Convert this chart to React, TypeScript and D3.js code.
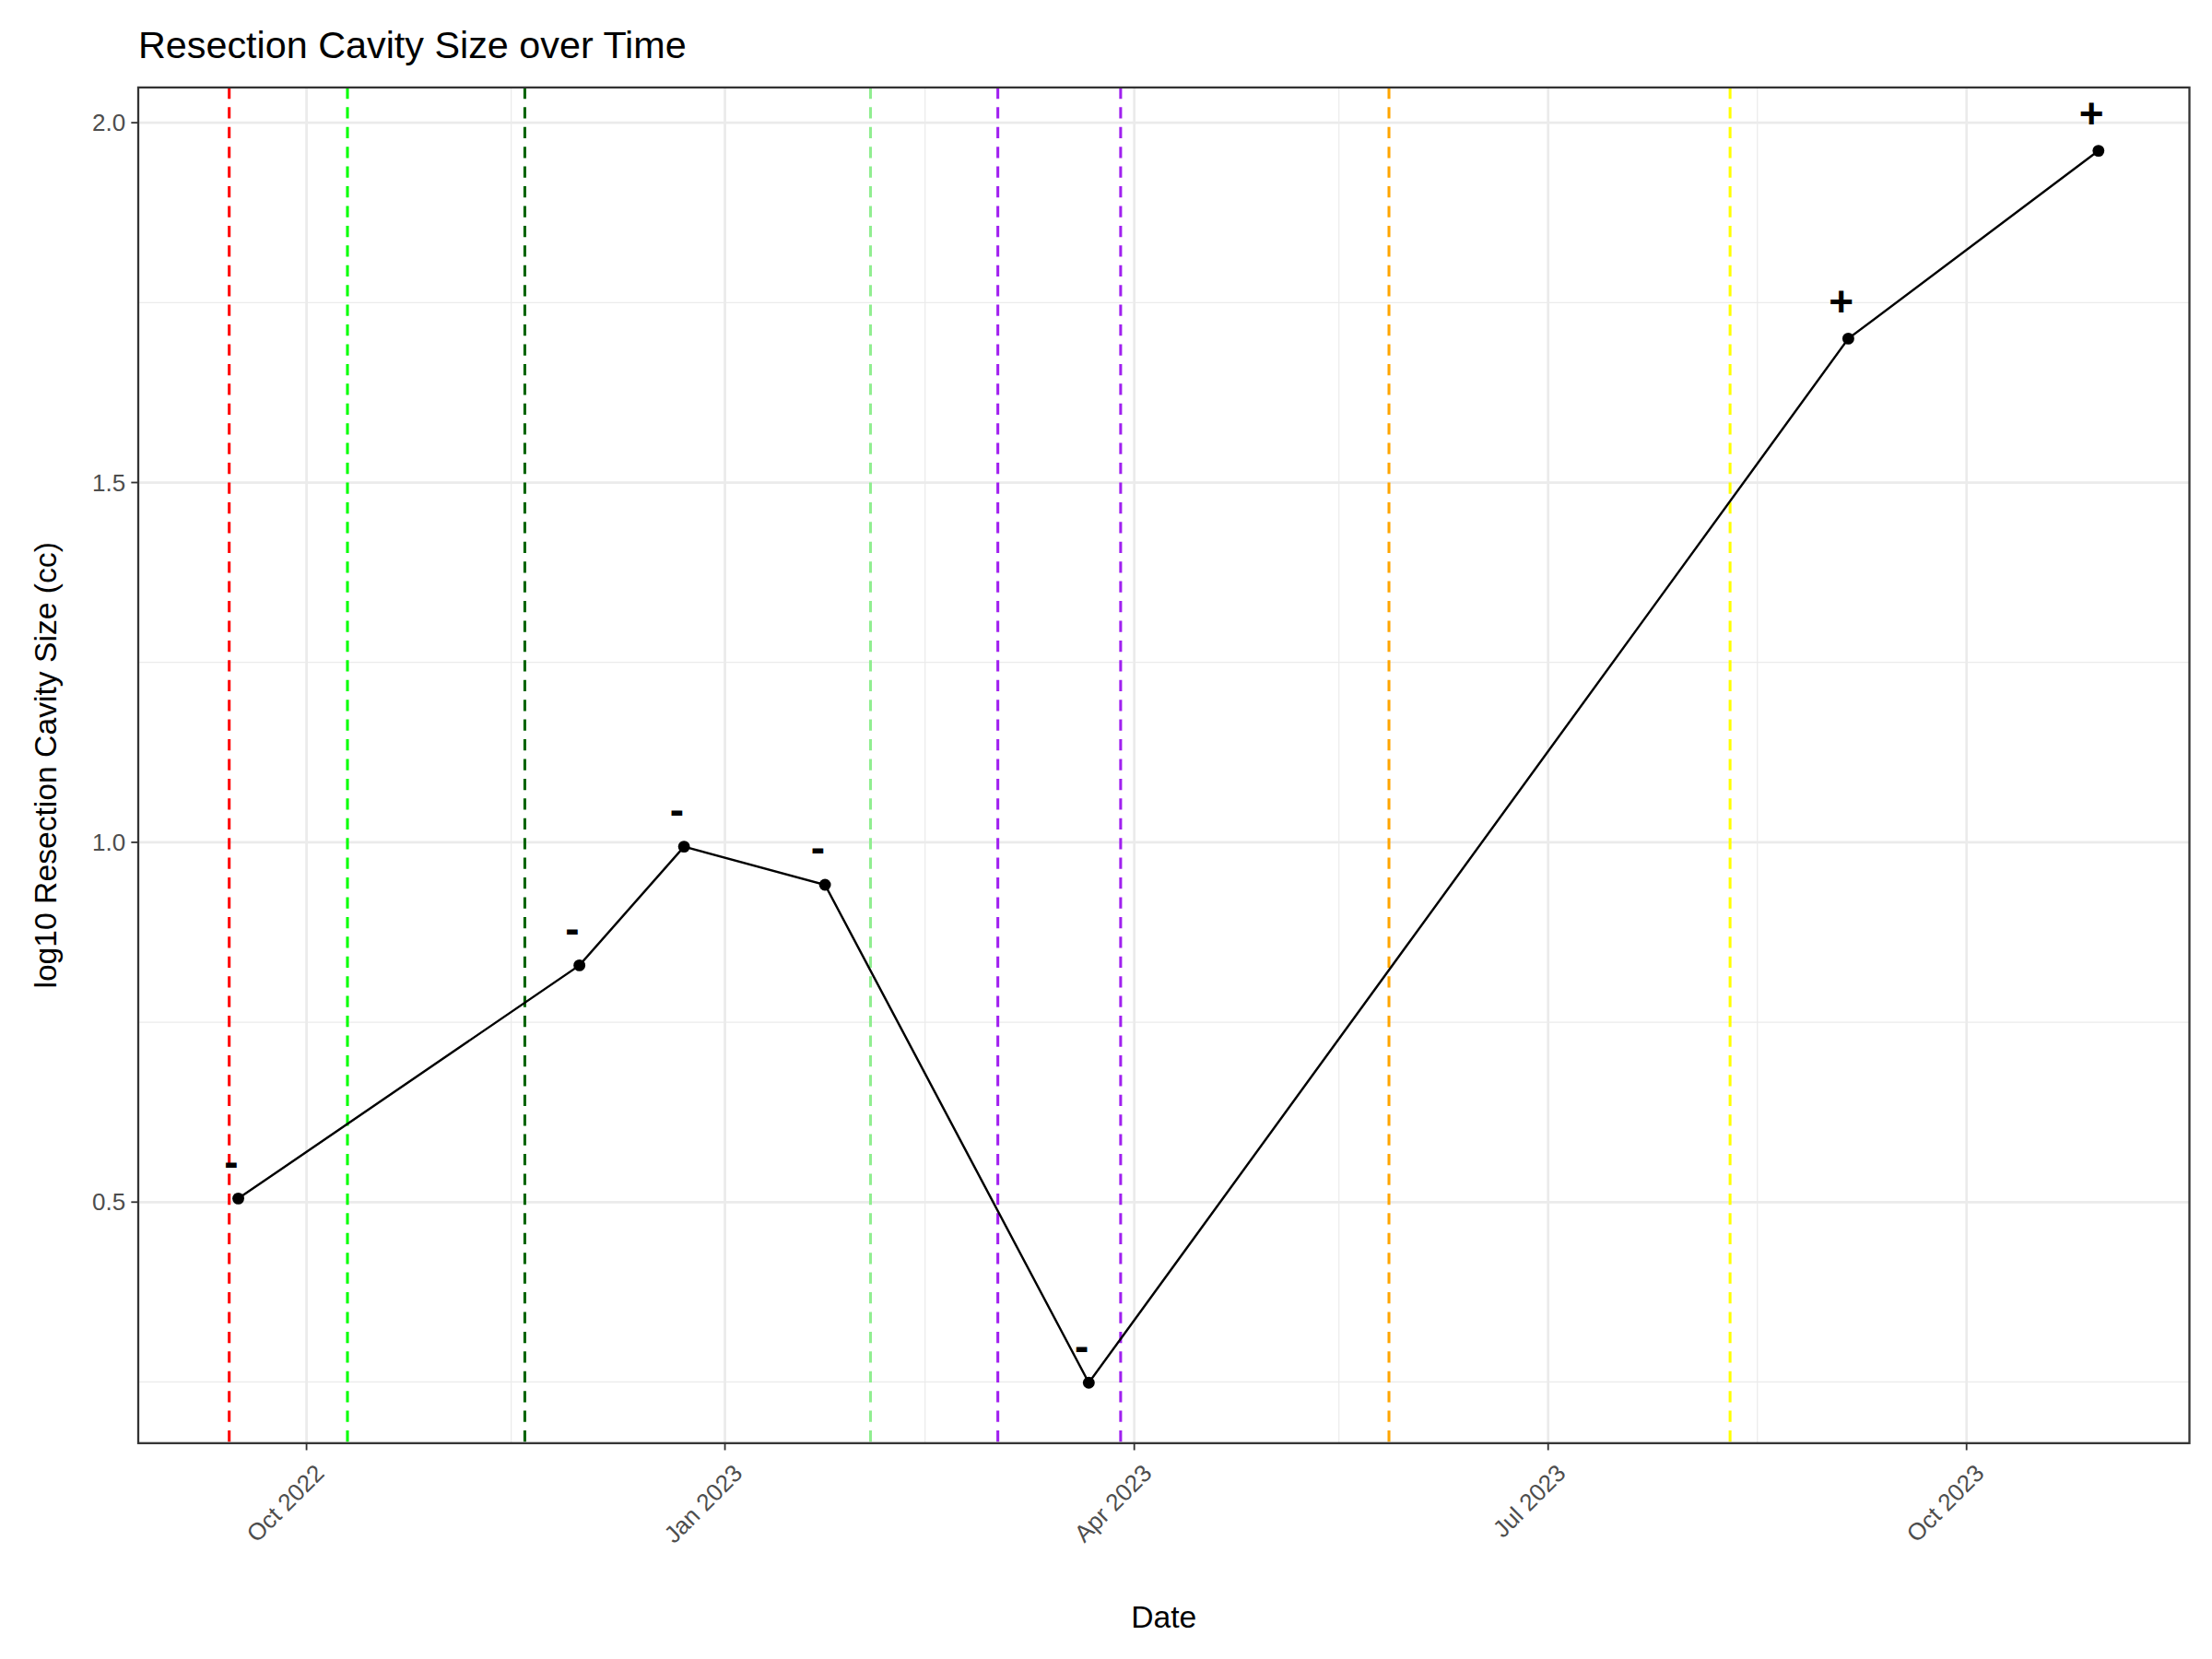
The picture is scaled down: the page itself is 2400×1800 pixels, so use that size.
import React from "react";
import * as d3 from "d3";

const dates = ["2022-09-16","2022-11-30","2022-12-23","2023-01-23","2023-03-22","2023-09-05","2023-10-30"];
const values = [0.505,0.829,0.994,0.941,0.249,1.70,1.961];
const signs = ["-","-","-","-","-","+","+"];
const eventDates = ["2022-09-14","2022-10-10","2022-11-18","2023-02-02","2023-03-02","2023-03-29","2023-05-27","2023-08-10"];
const eventColors = ["#FF0000","#00FF00","#006400","#90EE90","#A020F0","#A020F0","#FFA500","#FFFF00"];
const xTicks = ["2022-10-01","2023-01-01","2023-04-01","2023-07-01","2023-10-01"];
const xTickLabels = ["Oct 2022","Jan 2023","Apr 2023","Jul 2023","Oct 2023"];
const xMinor = ["2022-11-15","2023-02-14","2023-05-16","2023-08-16"];
const yTicks = [0.5,1.0,1.5,2.0];
const yMinor = [0.25,0.75,1.25,1.75];

const p = (s: string) => new Date(s + "T00:00:00Z");

export default function App() {
  const L = 98, R = 1552, T = 62, B = 1023;
  const x = d3.scaleUtc().domain([p("2022-08-25"), p("2023-11-19")]).range([L, R]);
  const y = d3.scaleLinear().domain([0.165, 2.049]).range([B, T]);
  const line = d3.line<number>().x((_, i) => x(p(dates[i]))).y(v => y(v));
  const font = "Arial, 'Liberation Sans', sans-serif";
  return (
    <svg width={2400} height={1800} viewBox="0 0 1568 1176" style={{ position: "absolute", left: 0, top: 0, background: "#fff" }} fontFamily={font}>
      <rect x={0} y={0} width={1568} height={1176} fill="#fff" />
      {yMinor.map(v => <line key={"ym" + v} x1={L} x2={R} y1={y(v)} y2={y(v)} stroke="#ebebeb" strokeWidth={0.8} />)}
      {xMinor.map(d => <line key={"xm" + d} x1={x(p(d))} x2={x(p(d))} y1={T} y2={B} stroke="#ebebeb" strokeWidth={0.8} />)}
      {yTicks.map(v => <line key={"y" + v} x1={L} x2={R} y1={y(v)} y2={y(v)} stroke="#ebebeb" strokeWidth={1.8} />)}
      {xTicks.map(d => <line key={"x" + d} x1={x(p(d))} x2={x(p(d))} y1={T} y2={B} stroke="#ebebeb" strokeWidth={1.8} />)}
      {eventDates.map((d, i) => <line key={"e" + i} x1={x(p(d))} x2={x(p(d))} y1={T} y2={B} stroke={eventColors[i]} strokeWidth={2} strokeDasharray="8,6" />)}
      <path d={line(values) || ""} fill="none" stroke="#000" strokeWidth={1.6} />
      {values.map((v, i) => <circle key={"c" + i} cx={x(p(dates[i]))} cy={y(v)} r={4.2} fill="#000" />)}
      {values.map((v, i) => <text key={"s" + i} x={x(p(dates[i])) - 5} y={y(v) - 16} fontSize={30} fontWeight="bold" textAnchor="middle">{signs[i]}</text>)}
      <rect x={L} y={T} width={R - L} height={B - T} fill="none" stroke="#333" strokeWidth={1.5} />
      {yTicks.map(v => (
        <g key={"yt" + v}>
          <line x1={L - 5} x2={L} y1={y(v)} y2={y(v)} stroke="#333" strokeWidth={1.2} />
          <text x={L - 9} y={y(v) + 6} fontSize={17} fill="#4d4d4d" textAnchor="end">{v.toFixed(1)}</text>
        </g>
      ))}
      {xTicks.map((d, i) => (
        <g key={"xt" + d}>
          <line x1={x(p(d))} x2={x(p(d))} y1={B} y2={B + 5} stroke="#333" strokeWidth={1.2} />
          <text transform={`translate(${x(p(d)) + 5},${B + 14}) rotate(-45)`} fontSize={17} fill="#4d4d4d" textAnchor="end" dy="0.7em">{xTickLabels[i]}</text>
        </g>
      ))}
      <text x={(L + R) / 2} y={1154} fontSize={22} textAnchor="middle">Date</text>
      <text transform={`translate(40,${(T + B) / 2}) rotate(-90)`} fontSize={22} textAnchor="middle">log10 Resection Cavity Size (cc)</text>
      <text x={L} y={41} fontSize={27}>Resection Cavity Size over Time</text>
    </svg>
  );
}
